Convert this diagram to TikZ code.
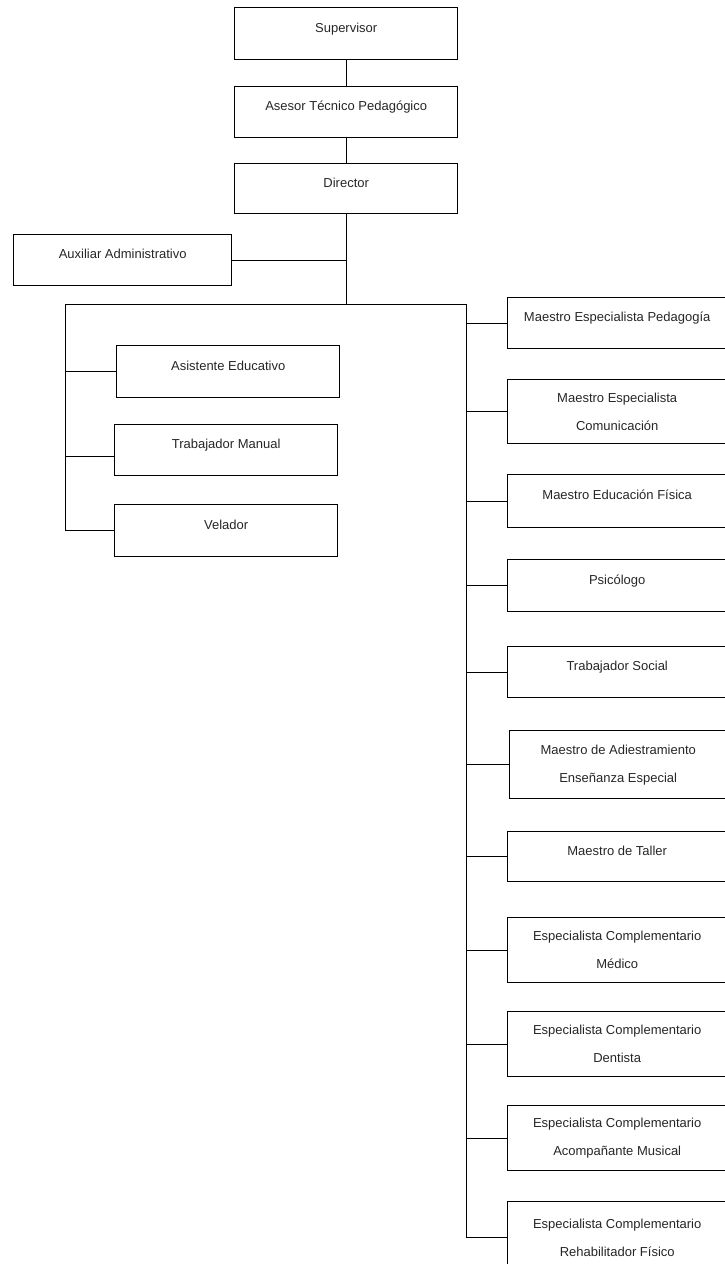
\documentclass[tikz,border=0pt]{standalone}
\usepackage{fontspec}
\setmainfont{Liberation Sans}

\begin{document}
\begin{tikzpicture}[x=1pt,y=-1pt,
		caja/.style={draw, line width=1.4pt, anchor=north west, inner sep=0pt, align=center,
			font=\fontsize{13}{28}\selectfont, text=black!85},
		uno/.style={text height=9.5pt, text depth=12.5pt},
		linea/.style={line width=1pt}]
			\useasboundingbox (0,0) rectangle (724,1264);
			% direccion
			\node[caja, uno, minimum width=223, minimum height=52] (sup) at (234,7) {Supervisor};
			\node[caja, uno, minimum width=223, minimum height=51] (ase) at (234,86) {Asesor Técnico Pedagógico};
			\node[caja, uno, minimum width=223, minimum height=50] (dir) at (234,163) {Director};
			\node[caja, uno, minimum width=218, minimum height=51] (aux) at (13,234) {Auxiliar Administrativo};
			\coordinate (nivel) at (0,304);
			\coordinate (nudo) at (dir.south |- nivel);
			\coordinate (izq) at (65,304);
			\coordinate (der) at (466,304);
			\draw[linea] (sup.south)--(ase.north);
			\draw[linea] (ase.south)--(dir.north);
			\draw[linea] (dir.south)--(nudo);
			\draw[linea] (aux.east)--(nudo |- aux.east);
			\draw[linea] (izq)--(der);
			%
			% personal de apoyo
			\node[caja, uno, minimum width=223, minimum height=52] (ae) at (116,345) {Asistente Educativo};
			\node[caja, uno, minimum width=223, minimum height=51] (tm) at (114,424) {Trabajador Manual};
			\node[caja, uno, minimum width=223, minimum height=52] (vel) at (114,504) {Velador};
			\draw[linea] (izq)--(izq |- vel.west)--(vel.west);
			\draw[linea] (izq |- ae.west)--(ae.west);
			\draw[linea] ([yshift=-6pt]izq |- tm.west)--([yshift=-6pt]tm.west);
			%
			% personal docente y especialistas
			\node[caja, uno, minimum width=219, minimum height=51] (m1) at (507,297) {Maestro Especialista Pedagogía};
			\node[caja, minimum width=219, minimum height=64] (m2) at (507,379) {Maestro Especialista\\Comunicación};
			\node[caja, uno, minimum width=219, minimum height=53] (m3) at (507,474) {Maestro Educación Física};
			\node[caja, uno, minimum width=219, minimum height=52] (m4) at (507,559) {Psicólogo};
			\node[caja, uno, minimum width=219, minimum height=51] (m5) at (507,646) {Trabajador Social};
			\node[caja, minimum width=217, minimum height=68] (m6) at (509,730) {Maestro de Adiestramiento\\Enseñanza Especial};
			\node[caja, uno, minimum width=219, minimum height=50] (m7) at (507,831) {Maestro de Taller};
			\node[caja, minimum width=219, minimum height=65] (m8) at (507,917) {Especialista Complementario\\Médico};
			\node[caja, minimum width=219, minimum height=65] (m9) at (507,1011) {Especialista Complementario\\Dentista};
			\node[caja, minimum width=219, minimum height=65] (m10) at (507,1105) {Especialista Complementario\\Acompañante Musical};
			\node[caja, minimum width=219, minimum height=72] (m11) at (507,1201) {Especialista Complementario\\Rehabilitador Físico};
			\draw[linea] (der)--(der |- m11.west)--(m11.west);
			\foreach \n in {m1,m2,m3,m4,m5,m6,m7,m8,m9,m10}
				\draw[linea] (der |- \n.west)--(\n.west);
		\end{tikzpicture}
\end{document}
